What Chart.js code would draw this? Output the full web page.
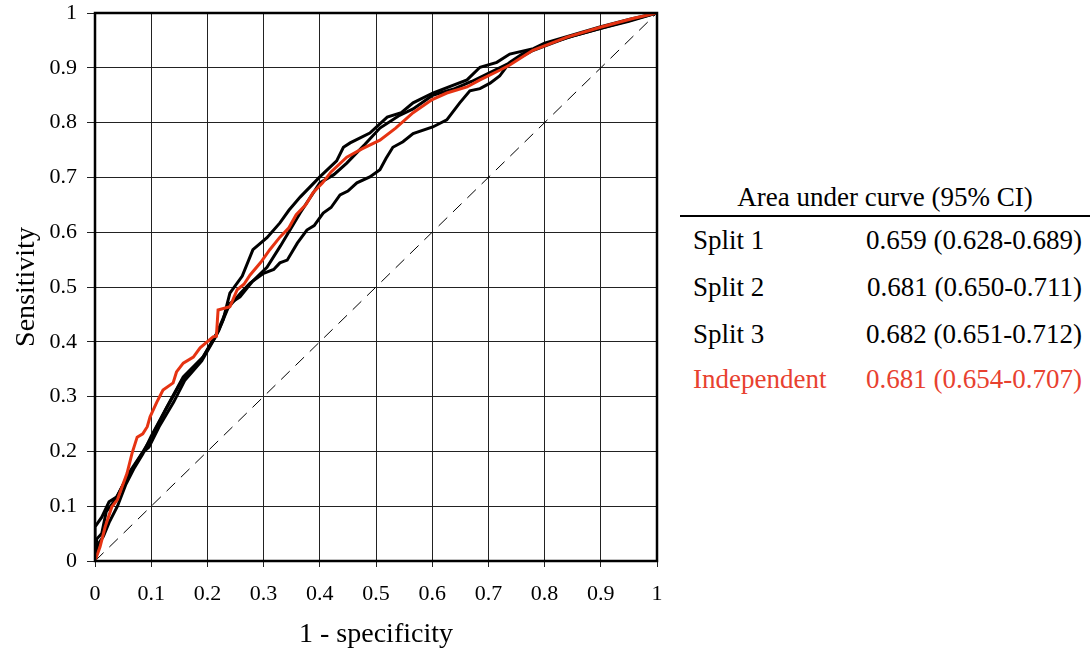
<!DOCTYPE html>
<html>
<head>
<meta charset="utf-8">
<script src="https://cdn.jsdelivr.net/npm/chart.js@4.4.1/dist/chart.umd.min.js"></script>
<style>
  body { margin: 0; background: #fff; font-family: 'Liberation Serif', serif; }
  #wrap { position: relative; width: 1090px; height: 655px; }
  #myChart { position: absolute; left: 0; top: 0; }
  .txt { position: absolute; font-size: 27px; white-space: nowrap; line-height: 1; }
  .hdr { left: 680px; width: 410px; text-align: center; top: 184px; }
  .rule { position: absolute; left: 680px; width: 410px; top: 215px; height: 2px; background: #000; }
  .lab { left: 693px; }
  .val { right: 8px; }
  .red { color: #e8412f; }
</style>
</head>
<body>
<div id="wrap">
  <canvas id="myChart" width="680" height="655"></canvas>
  <div class="txt hdr">Area under curve (95% CI)</div>
  <div class="rule"></div>
  <div id="rows"></div>
</div>
<script>
// data
const tickValues = [0, 0.1, 0.2, 0.3, 0.4, 0.5, 0.6, 0.7, 0.8, 0.9, 1];

const indepX = [0, 0.009, 0.018, 0.03, 0.04, 0.048, 0.057, 0.066, 0.075, 0.085, 0.093, 0.098, 0.11, 0.121, 0.139, 0.145, 0.157, 0.175, 0.187, 0.21, 0.216, 0.219, 0.24, 0.253, 0.265, 0.276, 0.295, 0.311, 0.329, 0.345, 0.358, 0.375, 0.388, 0.405, 0.42, 0.448, 0.475, 0.507, 0.535, 0.566, 0.6, 0.626, 0.662, 0.685, 0.721, 0.738, 0.779, 0.84, 0.899, 0.957, 1];
const indepY = [0, 0.026, 0.062, 0.099, 0.112, 0.135, 0.16, 0.197, 0.226, 0.232, 0.245, 0.263, 0.29, 0.312, 0.325, 0.345, 0.361, 0.372, 0.389, 0.409, 0.41, 0.458, 0.464, 0.495, 0.505, 0.522, 0.545, 0.568, 0.591, 0.608, 0.632, 0.65, 0.672, 0.69, 0.71, 0.737, 0.752, 0.768, 0.79, 0.818, 0.842, 0.854, 0.865, 0.878, 0.896, 0.905, 0.932, 0.956, 0.974, 0.99, 1];

const split1X = [0, 0.003, 0.012, 0.02, 0.035, 0.048, 0.065, 0.08, 0.098, 0.128, 0.157, 0.192, 0.217, 0.235, 0.26, 0.276, 0.3, 0.318, 0.329, 0.342, 0.36, 0.377, 0.39, 0.406, 0.42, 0.436, 0.45, 0.466, 0.489, 0.507, 0.518, 0.53, 0.548, 0.566, 0.601, 0.626, 0.649, 0.667, 0.685, 0.703, 0.72, 0.738, 0.76, 0.8, 0.85, 0.9, 0.95, 1];
const split1Y = [0, 0.04, 0.05, 0.09, 0.11, 0.135, 0.165, 0.19, 0.221, 0.281, 0.336, 0.372, 0.416, 0.46, 0.49, 0.507, 0.525, 0.532, 0.544, 0.549, 0.58, 0.604, 0.612, 0.635, 0.645, 0.668, 0.675, 0.69, 0.701, 0.714, 0.735, 0.755, 0.765, 0.78, 0.792, 0.805, 0.836, 0.858, 0.862, 0.872, 0.885, 0.91, 0.925, 0.942, 0.958, 0.972, 0.985, 1];

const split2X = [0, 0.005, 0.015, 0.025, 0.04, 0.055, 0.07, 0.085, 0.1, 0.125, 0.155, 0.19, 0.22, 0.24, 0.258, 0.28, 0.306, 0.33, 0.365, 0.4, 0.425, 0.448, 0.48, 0.507, 0.54, 0.566, 0.601, 0.64, 0.67, 0.7, 0.74, 0.78, 0.84, 0.9, 0.95, 1];
const split2Y = [0, 0.03, 0.045, 0.07, 0.1, 0.14, 0.17, 0.195, 0.228, 0.275, 0.33, 0.368, 0.42, 0.47, 0.482, 0.51, 0.536, 0.575, 0.635, 0.69, 0.705, 0.726, 0.76, 0.79, 0.812, 0.825, 0.85, 0.862, 0.875, 0.89, 0.91, 0.932, 0.955, 0.972, 0.986, 1];

const split3X = [0, 0, 0.012, 0.025, 0.039, 0.048, 0.06, 0.084, 0.096, 0.114, 0.14, 0.16, 0.19, 0.215, 0.228, 0.24, 0.262, 0.281, 0.306, 0.329, 0.345, 0.365, 0.4, 0.43, 0.442, 0.454, 0.489, 0.52, 0.545, 0.566, 0.601, 0.662, 0.685, 0.715, 0.738, 0.78, 0.8, 0.85, 0.9, 0.95, 1];
const split3Y = [0, 0.062, 0.08, 0.108, 0.117, 0.135, 0.16, 0.197, 0.208, 0.245, 0.29, 0.33, 0.365, 0.41, 0.44, 0.489, 0.52, 0.568, 0.59, 0.617, 0.64, 0.664, 0.701, 0.73, 0.755, 0.763, 0.781, 0.81, 0.818, 0.836, 0.854, 0.878, 0.901, 0.91, 0.925, 0.935, 0.945, 0.96, 0.975, 0.988, 1];

const chanceX = [0, 1];
const chanceY = [0, 1];

const rowLabels = ['Split 1', 'Split 2', 'Split 3', 'Independent'];
const rowValues = ['0.659 (0.628-0.689)', '0.681 (0.650-0.711)', '0.682 (0.651-0.712)', '0.681 (0.654-0.707)'];

const RED = '#e63312';

function pts(xs, ys) {
    return xs.map(function(x, i) { return { x: x, y: ys[i] }; });
}

// table on the right
const rows = document.getElementById('rows');
const rowTops = [227, 274, 321, 366];
rowLabels.forEach(function(label, i) {
    const cls = i === 3 ? ' red' : '';
    rows.insertAdjacentHTML('beforeend',
        '<div class="txt lab' + cls + '" style="top:' + rowTops[i] + 'px">' + label + '</div>' +
        '<div class="txt val' + cls + '" style="top:' + rowTops[i] + 'px">' + rowValues[i] + '</div>');
});

// frame round the plot area
const framePlugin = {
    id: 'frame',
    afterDatasetsDraw(chart) {
        const a = chart.chartArea;
        const ctx = chart.ctx;
        ctx.save();
        ctx.strokeStyle = '#000';
        ctx.lineWidth = 2.5;
        ctx.strokeRect(a.left, a.top, a.right - a.left, a.bottom - a.top);
        ctx.restore();
    }
};

const lineStyle = { showLine: true, pointRadius: 0, borderWidth: 3, tension: 0, fill: false };

const data = {
    datasets: [
        Object.assign({ label: 'Independent', data: pts(indepX, indepY), borderColor: RED }, lineStyle),
        Object.assign({ label: 'Split 1', data: pts(split1X, split1Y), borderColor: '#000' }, lineStyle),
        Object.assign({ label: 'Split 2', data: pts(split2X, split2Y), borderColor: '#000' }, lineStyle),
        Object.assign({ label: 'Split 3', data: pts(split3X, split3Y), borderColor: '#000' }, lineStyle),
        { label: 'Chance', data: pts(chanceX, chanceY), showLine: true, pointRadius: 0,
          borderWidth: 1, borderColor: '#000', borderDash: [12, 8] }
    ]
};

const tickFont = { family: 'Liberation Serif', size: 22 };
const titleFont = { family: 'Liberation Serif', size: 28 };

const config = {
    type: 'scatter',
    data,
    options: {
        responsive: false,
        animation: false,
        layout: { padding: { top: 0, right: 23, left: 0, bottom: 0 } },
        plugins: { legend: { display: false }, tooltip: { enabled: false } },
        scales: {
            x: {
                type: 'linear', min: 0, max: 1,
                afterBuildTicks: function(scale) { scale.ticks = tickValues.map(function(v) { return { value: v }; }); },
                afterFit: function(scale) { scale.height = 94; },
                border: { display: false },
                grid: { color: '#222', lineWidth: 1, tickLength: 6 },
                ticks: { color: '#000', font: tickFont, padding: 14, maxRotation: 0,
                         callback: function(v) { return String(Math.round(v * 10) / 10); } },
                title: { display: true, text: '1 - specificity', color: '#000', font: titleFont, padding: { top: 2 } }
            },
            y: {
                type: 'linear', min: 0, max: 1,
                afterBuildTicks: function(scale) { scale.ticks = tickValues.map(function(v) { return { value: v }; }); },
                afterFit: function(scale) { scale.width = 95; scale.paddingTop = 13; scale.paddingBottom = 0; },
                border: { display: false },
                grid: { color: '#222', lineWidth: 1, tickLength: 8 },
                ticks: { color: '#000', font: tickFont, padding: 10,
                         callback: function(v) { return String(Math.round(v * 10) / 10); } },
                title: { display: true, text: 'Sensitivity', color: '#000', font: titleFont, padding: { top: 10 } }
            }
        }
    },
    plugins: [framePlugin]
};

const myChart = new Chart(document.getElementById('myChart'), config);
</script>
</body>
</html>
